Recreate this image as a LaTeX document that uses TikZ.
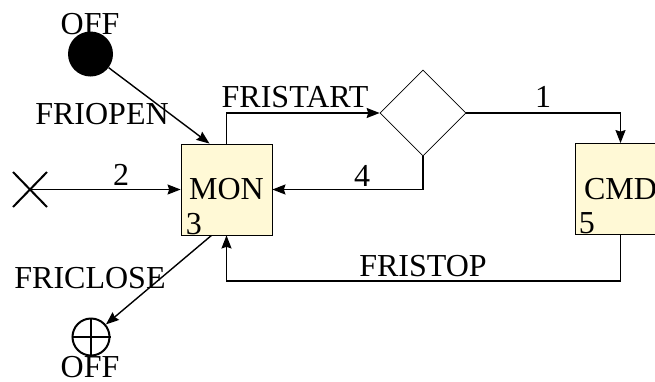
\documentclass[tikz,border=0pt]{standalone}
\usepackage{fontspec}
\setmainfont{Liberation Serif}
\usepackage{xcolor}
\definecolor{stateyellow}{RGB}{255, 249, 214}
\usetikzlibrary{shapes.geometric, shapes.misc, arrows.meta}

\begin{document}
\begin{tikzpicture}[
    x=1pt, y=-1pt,
    font=\fontsize{32}{38}\selectfont,
    state/.style={rectangle, draw=black, line width=0.8pt, fill=stateyellow, minimum width=91pt, minimum height=91pt, inner sep=0pt},
    choice/.style={diamond, draw=black, line width=0.7pt, minimum width=86pt, minimum height=86pt, inner sep=0pt},
    flow/.style={line width=1.4pt, -{Stealth[length=13pt, width=10pt, inset=1.5pt]}},
    lbl/.style={inner sep=0pt}
]
\useasboundingbox (0,0) rectangle (655,381);

% Estados
\node[state] (mon) at (226.5,189.5) {MON};
\node[state] (cmd) at (620.5,189) {CMD};
\node[lbl, anchor=base west] (mon-id) at ([xshift=5pt, yshift=1pt]mon.south west) {3};
\node[lbl, anchor=base west] (cmd-id) at ([xshift=4pt, yshift=1pt]cmd.south west) {5};

% Decision
\node[choice] (dec) at (423,113) {};

% Inicio, fin y entrada
\node[circle, fill=black, minimum size=45pt, inner sep=0pt] (start) at (90.5,54) {};
\node[circle, draw=black, line width=2pt, minimum size=37pt, inner sep=0pt] (stop) at (91,337) {};
\draw[line width=2pt] (stop.north) -- (stop.south) (stop.west) -- (stop.east);
\node[cross out, draw=black, line width=2pt, minimum width=32pt, minimum height=33pt, inner sep=0pt] (entry) at (30,189.5) {};

% Transiciones
\draw[flow] (start) -- ([xshift=-17pt]mon.north);
\draw[flow] (entry.center) -- (mon.west);
\draw[flow] (mon.north) |- (dec.west);
\draw[flow] (dec.east) -| (cmd.north);
\draw[flow] (dec.south) |- (mon.east);
\draw[flow] (cmd.south) -- ++(0,46) -| (mon.south);
\draw[flow] ([xshift=-15pt]mon.south) -- (stop);

% Etiquetas
\node[lbl] (off-in) at (90,24) {OFF};
\node[lbl] (off-out) at (90,367) {OFF};
\node[lbl] (l-open) at (102,114.5) {FRIOPEN};
\node[lbl] (l-start) at (295,97) {FRISTART};
\node[lbl] (l-one) at (543,97) {1};
\node[lbl] (l-two) at (121,175) {2};
\node[lbl] (l-four) at (362,176) {4};
\node[lbl] (l-stop) at (423,266) {FRISTOP};
\node[lbl] (l-close) at (90,278) {FRICLOSE};

\end{tikzpicture}
\end{document}
